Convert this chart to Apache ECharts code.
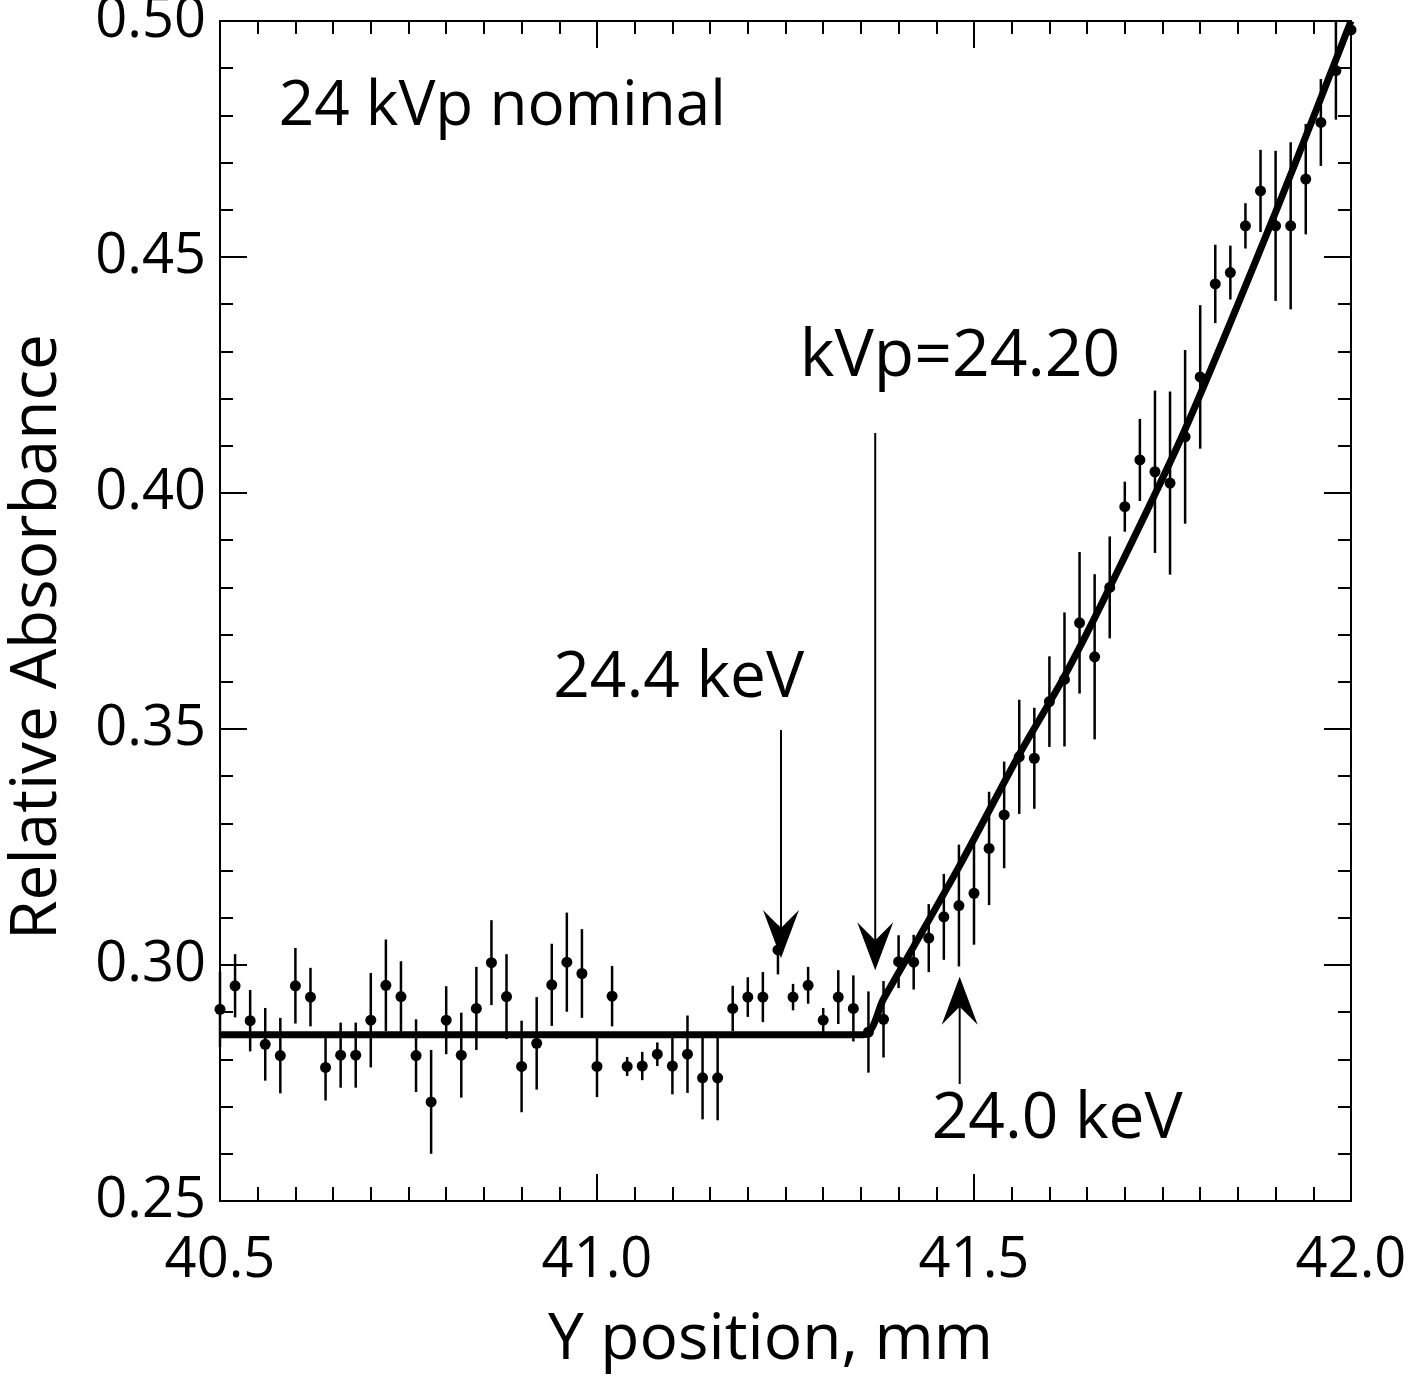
<!DOCTYPE html>
<html>
<head>
<meta charset="utf-8">
<script src="https://cdn.jsdelivr.net/npm/echarts@6/dist/echarts.min.js"></script>
<style>
  html, body { margin: 0; padding: 0; background: #fff; }
  #chart-container { width: 1409px; height: 1376px; }
</style>
</head>
<body>
<div id="chart-container"></div>
<script>
  // Y position (mm) of each measured point
  var posY = [
    40.50, 40.52, 40.54, 40.56, 40.58, 40.60, 40.62, 40.64, 40.66, 40.68,
    40.70, 40.72, 40.74, 40.76, 40.78, 40.80, 40.82, 40.84, 40.86, 40.88,
    40.90, 40.92, 40.94, 40.96, 40.98, 41.00, 41.02, 41.04, 41.06, 41.08,
    41.10, 41.12, 41.14, 41.16, 41.18, 41.20, 41.22, 41.24, 41.26, 41.28,
    41.30, 41.32, 41.34, 41.36, 41.38, 41.40, 41.42, 41.44, 41.46, 41.48,
    41.50, 41.52, 41.54, 41.56, 41.58, 41.60, 41.62, 41.64, 41.66, 41.68,
    41.70, 41.72, 41.74, 41.76, 41.78, 41.80, 41.82, 41.84, 41.86, 41.88,
    41.90, 41.92, 41.94, 41.96, 41.98, 42.00
  ];

  // relative absorbance
  var absorb = [
    0.2906, 0.2956, 0.2882, 0.2832, 0.2808, 0.2956, 0.2932, 0.2783, 0.2809, 0.2809,
    0.2883, 0.2957, 0.2933, 0.2808, 0.2710, 0.2883, 0.2809, 0.2908, 0.3005, 0.2933,
    0.2785, 0.2834, 0.2958, 0.3006, 0.2982, 0.2785, 0.2934, 0.2785, 0.2786, 0.2811,
    0.2786, 0.2811, 0.2761, 0.2761, 0.2908, 0.2932, 0.2932, 0.3032, 0.2932, 0.2957,
    0.2883, 0.2932, 0.2908, 0.2858, 0.2885, 0.3007, 0.3006, 0.3057, 0.3102, 0.3126,
    0.3152, 0.3247, 0.3318, 0.3441, 0.3438, 0.3558, 0.3605, 0.3725, 0.3653, 0.3800,
    0.3971, 0.4070, 0.4045, 0.4021, 0.4119, 0.4246, 0.4443, 0.4467, 0.4566, 0.4640,
    0.4566, 0.4566, 0.4665, 0.4785, 0.4895, 0.4981
  ];

  // half length of the error bars
  var errHalf = [
    0.0080, 0.0067, 0.0065, 0.0077, 0.0080, 0.0080, 0.0062, 0.0070, 0.0069, 0.0069,
    0.0100, 0.0097, 0.0075, 0.0077, 0.0110, 0.0072, 0.0090, 0.0088, 0.0090, 0.0090,
    0.0097, 0.0098, 0.0087, 0.0105, 0.0094, 0.0065, 0.0064, 0.0020, 0.0030, 0.0025,
    0.0060, 0.0082, 0.0088, 0.0090, 0.0048, 0.0042, 0.0053, 0.0052, 0.0028, 0.0039,
    0.0026, 0.0057, 0.0070, 0.0086, 0.0081, 0.0056, 0.0058, 0.0072, 0.0091, 0.0129,
    0.0109, 0.0120, 0.0113, 0.0121, 0.0107, 0.0096, 0.0142, 0.0150, 0.0175, 0.0108,
    0.0053, 0.0087, 0.0172, 0.0194, 0.0184, 0.0152, 0.0083, 0.0057, 0.0048, 0.0087,
    0.0159, 0.0177, 0.0117, 0.0092, 0.0104, 0.0000
  ];

  // fitted curve (flat, then rising edge)
  var fitX = [40.50, 41.352, 41.38, 41.48, 41.56, 41.62, 41.68, 41.78, 41.90, 42.00];
  var fitY = [0.2852, 0.2852, 0.2928, 0.3208, 0.3446, 0.3612, 0.3800, 0.4135, 0.4595, 0.5000];

  // arrows: x, tail value, tip value
  var arrowX    = [41.244, 41.369, 41.481];
  var arrowTail = [0.3498, 0.4127, 0.2748];
  var arrowTip  = [0.3015, 0.2989, 0.2975];

  // text notes
  var noteText = ["24 kVp nominal", "kVp=24.20", "24.4 keV", "24.0 keV"];
  var noteX    = [40.578, 41.269, 40.942, 41.444];
  var noteY    = [0.4818, 0.4288, 0.3607, 0.2672];
  var noteSize = [62, 66, 64, 64];

  var xTicks = { min: 40.5, max: 42.0, step: 0.5 };
  var yTicks = { min: 0.25, max: 0.50, step: 0.05 };

  var FONT = '"Open Sans", "DejaVu Sans", sans-serif';

  var points = posY.map(function (x, i) { return [x, absorb[i]]; });
  var bars = posY.map(function (x, i) { return [x, absorb[i] - errHalf[i], absorb[i] + errHalf[i]]; });
  var fit = fitX.map(function (x, i) { return [x, fitY[i]]; });
  var arrows = arrowX.map(function (x, i) { return [x, arrowTail[i], arrowTip[i]]; });
  var notes = noteText.map(function (t, i) { return [noteX[i], noteY[i], t]; });

  function tickAxis(extra) {
    var base = {
      type: 'value',
      axisLine: { show: true, onZero: false, lineStyle: { color: '#000', width: 2 } },
      axisTick: { show: true, inside: true, length: 27, lineStyle: { color: '#000', width: 2 } },
      minorTick: { show: true, length: 13, lineStyle: { color: '#000', width: 2 } },
      splitLine: { show: false },
      minorSplitLine: { show: false }
    };
    for (var k in extra) base[k] = extra[k];
    return base;
  }

  var chart = echarts.init(document.getElementById('chart-container'));

  var options = {
    backgroundColor: '#fff',
    animation: false,
    grid: { left: 220, top: 21, width: 1131, height: 1180, containLabel: false, outerBoundsMode: 'none' },
    xAxis: [
      tickAxis({
        position: 'bottom',
        min: xTicks.min, max: xTicks.max, interval: xTicks.step,
        minorTick: { show: true, splitNumber: 10, length: 14, lineStyle: { color: '#000', width: 2 } },
        axisLabel: {
          show: true, margin: 32, color: '#000', fontSize: 56, fontWeight: 500, fontFamily: FONT,
          formatter: function (v) { return v.toFixed(1); }
        },
        name: 'Y position, mm',
        nameLocation: 'middle',
        nameGap: 108,
        nameTextStyle: { color: '#000', fontSize: 64, fontFamily: FONT, padding: [0, 30, 0, 0] }
      }),
      tickAxis({
        position: 'top',
        min: xTicks.min, max: xTicks.max, interval: xTicks.step,
        minorTick: { show: true, splitNumber: 10, length: 13, lineStyle: { color: '#000', width: 2 } },
        axisLabel: { show: false }
      })
    ],
    yAxis: [
      tickAxis({
        position: 'left',
        min: yTicks.min, max: yTicks.max, interval: yTicks.step,
        minorTick: { show: true, splitNumber: 5, length: 13, lineStyle: { color: '#000', width: 2 } },
        axisLabel: {
          show: true, margin: 14, color: '#000', fontSize: 56, fontWeight: 500, fontFamily: FONT,
          formatter: function (v) { return v.toFixed(2); }
        },
        name: 'Relative Absorbance',
        nameLocation: 'middle',
        nameGap: 150,
        nameTextStyle: { color: '#000', fontSize: 64, fontFamily: FONT, padding: [0, 52, 0, 0] }
      }),
      tickAxis({
        position: 'right',
        min: yTicks.min, max: yTicks.max, interval: yTicks.step,
        minorTick: { show: true, splitNumber: 5, length: 13, lineStyle: { color: '#000', width: 2 } },
        axisLabel: { show: false }
      })
    ],
    series: [
      {
        name: 'errors',
        type: 'custom',
        clip: false,
        data: bars,
        renderItem: function (params, api) {
          var lo = api.coord([api.value(0), api.value(1)]);
          var hi = api.coord([api.value(0), api.value(2)]);
          return {
            type: 'line',
            shape: { x1: lo[0], y1: lo[1], x2: hi[0], y2: hi[1] },
            style: { stroke: '#000', lineWidth: 2.5 }
          };
        }
      },
      {
        name: 'fit',
        type: 'line',
        data: fit,
        showSymbol: false,
        smooth: 0.3,
        lineStyle: { color: '#000', width: 7 },
        z: 3
      },
      {
        name: 'data',
        type: 'scatter',
        data: points,
        clip: false,
        symbol: 'circle',
        symbolSize: 11,
        itemStyle: { color: '#000', opacity: 1 },
        z: 4
      },
      {
        name: 'arrows',
        type: 'custom',
        data: arrows,
        renderItem: function (params, api) {
          var tail = api.coord([api.value(0), api.value(1)]);
          var tip = api.coord([api.value(0), api.value(2)]);
          var d = tip[1] > tail[1] ? 1 : -1; // 1 = pointing down
          var hw = 18, hh = 48, notch = 30;
          return {
            type: 'group',
            children: [
              {
                type: 'line',
                shape: { x1: tail[0], y1: tail[1], x2: tip[0], y2: tip[1] - d * notch },
                style: { stroke: '#000', lineWidth: 2 }
              },
              {
                type: 'polygon',
                shape: {
                  points: [
                    [tip[0], tip[1]],
                    [tip[0] - hw, tip[1] - d * hh],
                    [tip[0], tip[1] - d * notch],
                    [tip[0] + hw, tip[1] - d * hh]
                  ]
                },
                style: { fill: '#000' }
              }
            ]
          };
        },
        z: 5
      },
      {
        name: 'notes',
        type: 'custom',
        data: notes,
        renderItem: function (params, api) {
          var p = api.coord([api.value(0), api.value(1)]);
          var i = params.dataIndex;
          return {
            type: 'text',
            x: p[0],
            y: p[1],
            style: {
              text: noteText[i],
              fill: '#000',
              font: noteSize[i] + 'px ' + FONT,
              align: 'left',
              verticalAlign: 'middle'
            }
          };
        },
        z: 6
      }
    ]
  };

  chart.setOption(options);
</script>
</body>
</html>
